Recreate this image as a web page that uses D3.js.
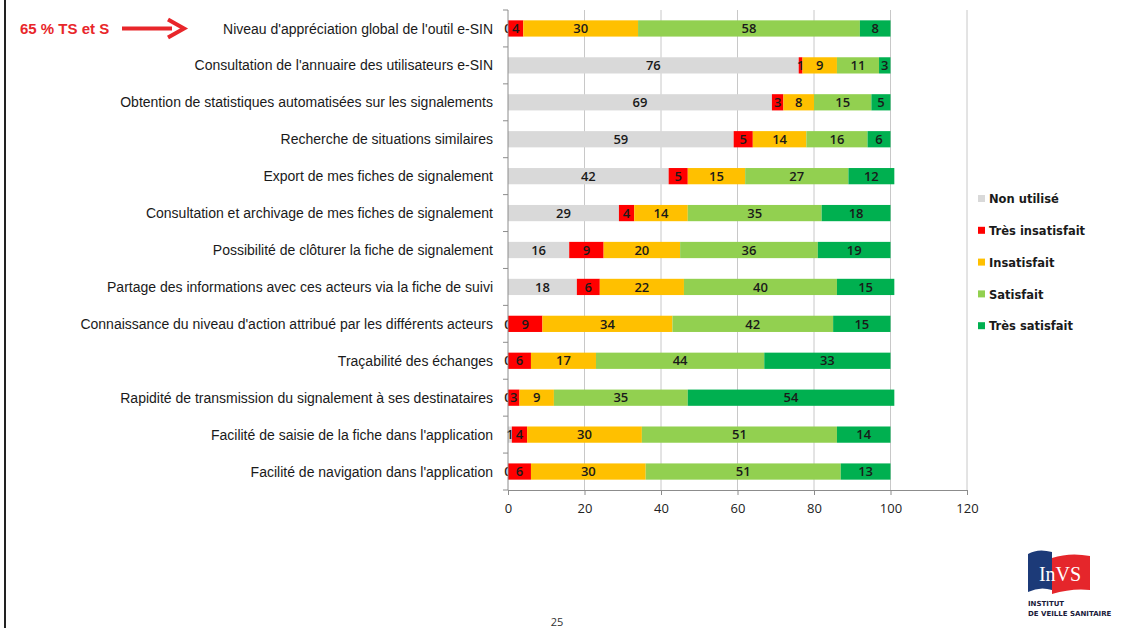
<!DOCTYPE html>
<html>
<head>
<meta charset="utf-8">
<script src="https://cdn.jsdelivr.net/npm/d3@7"></script>
<style>
  body { margin: 0; background: #fff; }
  svg { display: block; }
</style>
</head>
<body>
<div id="chart"></div>
<script>
// Categories (top to bottom)
const categories = [
  "Niveau d'appréciation global de l'outil e-SIN",
  "Consultation de l'annuaire des utilisateurs e-SIN",
  "Obtention de statistiques automatisées sur les signalements",
  "Recherche de situations similaires",
  "Export de mes fiches de signalement",
  "Consultation et archivage de mes fiches de signalement",
  "Possibilité de clôturer la fiche de signalement",
  "Partage des informations avec ces acteurs via la fiche de suivi",
  "Connaissance du niveau d'action attribué par les différents acteurs",
  "Traçabilité des échanges",
  "Rapidité de transmission du signalement à ses destinataires",
  "Facilité de saisie de la fiche dans l'application",
  "Facilité de navigation dans l'application"
];

// Series values (%)
const nonUtilise      = [0, 76, 69, 59, 42, 29, 16, 18, 0, 0, 0, 1, 0];
const tresInsatisfait = [4, 1, 3, 5, 5, 4, 9, 6, 9, 6, 3, 4, 6];
const insatisfait     = [30, 9, 8, 14, 15, 14, 20, 22, 34, 17, 9, 30, 30];
const satisfait       = [58, 11, 15, 16, 27, 35, 36, 40, 42, 44, 35, 51, 51];
const tresSatisfait   = [8, 3, 5, 6, 12, 18, 19, 15, 15, 33, 54, 14, 13];

const seriesNames = ["Non utilisé", "Très insatisfait", "Insatisfait", "Satisfait", "Très satisfait"];
const seriesColors = ["#d9d9d9", "#ff0000", "#ffc000", "#92d050", "#00b050"];
const xTicks = [0, 20, 40, 60, 80, 100, 120];

// Build table for d3.stack
const seriesValues = [nonUtilise, tresInsatisfait, insatisfait, satisfait, tresSatisfait];
const table = categories.map((c, i) => {
    const row = { category: c };
    seriesNames.forEach((s, j) => { row[s] = seriesValues[j][i]; });
    return row;
});

const W = 1144, H = 628;
const svg = d3.select("#chart").append("svg")
    .attr("width", W)
    .attr("height", H);

// Slide frame on the left
svg.append("line")
    .attr("x1", 5).attr("x2", 5)
    .attr("y1", 0).attr("y2", H)
    .attr("stroke", "#222")
    .attr("stroke-width", 2);

// Scales
const x = d3.scaleLinear().domain([0, 120]).range([508, 967]);
const y = d3.scaleBand()
    .domain(categories)
    .range([10, 490])
    .paddingInner(0.56)
    .paddingOuter(0.28);

const plotTop = 10, plotBottom = 490;

// Vertical gridlines
svg.append("g")
    .selectAll("line")
    .data(xTicks.filter(d => d > 0))
    .join("line")
    .attr("x1", d => x(d)).attr("x2", d => x(d))
    .attr("y1", plotTop).attr("y2", plotBottom)
    .attr("stroke", "#c8c8c8")
    .attr("stroke-width", 1);

// Stacked bars
const stack = d3.stack().keys(seriesNames);
const stacked = stack(table);

const layers = svg.append("g")
    .selectAll("g")
    .data(stacked)
    .join("g")
    .attr("fill", (d, i) => seriesColors[i]);

layers.selectAll("rect")
    .data(d => d)
    .join("rect")
    .attr("x", d => x(d[0]))
    .attr("y", d => y(d.data.category))
    .attr("width", d => x(d[1]) - x(d[0]))
    .attr("height", y.bandwidth());

// Data labels
const labelFont = "'Open Sans', 'Liberation Sans', sans-serif";
layers.selectAll("text")
    .data(d => d.map(p => ({ p, key: d.key })))
    .join("text")
    .attr("x", d => (x(d.p[0]) + x(d.p[1])) / 2)
    .attr("y", d => y(d.p.data.category) + y.bandwidth() / 2)
    .attr("dy", "0.36em")
    .attr("text-anchor", "middle")
    .attr("fill", "#1a1a1a")
    .style("font-family", labelFont)
    .style("font-size", "13px")
    .style("font-weight", 600)
    .text(d => d.p.data[d.key]);

// X axis
const xAxis = svg.append("g")
    .attr("transform", `translate(0,${plotBottom})`)
    .call(d3.axisBottom(x).tickValues(xTicks).tickSize(5).tickPadding(9));
xAxis.select(".domain").attr("stroke", "#8c8c8c");
xAxis.selectAll(".tick line").attr("stroke", "#8c8c8c");
xAxis.selectAll("text")
    .attr("fill", "#222")
    .style("font-family", labelFont)
    .style("font-size", "13px");

// Y axis (category axis line with ticks between categories)
svg.append("line")
    .attr("x1", x(0)).attr("x2", x(0))
    .attr("y1", plotTop).attr("y2", plotBottom)
    .attr("stroke", "#8c8c8c");
const step = y.step();
svg.append("g")
    .selectAll("line")
    .data(d3.range(categories.length + 1))
    .join("line")
    .attr("x1", x(0) - 5).attr("x2", x(0))
    .attr("y1", i => plotTop + i * step)
    .attr("y2", i => plotTop + i * step)
    .attr("stroke", "#8c8c8c");

// Category labels
const narrowFont = "'Liberation Sans Narrow', 'Arial Narrow', 'Liberation Sans', sans-serif";
svg.append("g")
    .selectAll("text")
    .data(categories)
    .join("text")
    .attr("x", 493)
    .attr("y", d => y(d) + y.bandwidth() / 2)
    .attr("dy", "0.36em")
    .attr("text-anchor", "end")
    .attr("fill", "#1a1a1a")
    .style("font-family", narrowFont)
    .style("font-size", "14px")
    .text(d => d);

// Annotation on first row
const firstY = y(categories[0]) + y.bandwidth() / 2;
svg.append("text")
    .attr("x", 20)
    .attr("y", firstY)
    .attr("dy", "0.36em")
    .attr("fill", "#e8262a")
    .style("font-family", narrowFont)
    .style("font-size", "15px")
    .style("font-weight", 600)
    .text("65 % TS et S");
svg.append("line")
    .attr("x1", 122).attr("x2", 172)
    .attr("y1", firstY).attr("y2", firstY)
    .attr("stroke", "#e8262a")
    .attr("stroke-width", 4);
svg.append("path")
    .attr("d", `M168,${firstY - 9} L184,${firstY} L168,${firstY + 9}`)
    .attr("fill", "none")
    .attr("stroke", "#e8262a")
    .attr("stroke-width", 4)
    .attr("stroke-linejoin", "miter");

// Legend
const legend = svg.append("g")
    .selectAll("g")
    .data(seriesNames)
    .join("g")
    .attr("transform", (d, i) => `translate(978,${199 + i * 31.8})`);
legend.append("rect")
    .attr("x", 0).attr("y", -4)
    .attr("width", 7).attr("height", 7)
    .attr("fill", (d, i) => seriesColors[i]);
legend.append("text")
    .attr("x", 11)
    .attr("y", 0)
    .attr("dy", "0.36em")
    .attr("fill", "#1a1a1a")
    .style("font-family", "'DejaVu Sans', Verdana, sans-serif")
    .style("font-size", "11.5px")
    .style("font-weight", 600)
    .text(d => d);

// Page number
svg.append("text")
    .attr("x", 557)
    .attr("y", 622)
    .attr("dy", "0.36em")
    .attr("text-anchor", "middle")
    .attr("fill", "#333")
    .style("font-family", labelFont)
    .style("font-size", "11px")
    .text("25");

// Logo (InVS)
const logo = svg.append("g").attr("transform", "translate(1028,548)");
logo.append("path")
    .attr("d", "M0,6 Q10,0 24,4 L24,42 Q12,38 0,44 Z")
    .attr("fill", "#1c3a78");
logo.append("path")
    .attr("d", "M24,10 Q42,4 62,8 L62,42 Q44,40 24,46 Z")
    .attr("fill", "#e5262b");
logo.append("text")
    .attr("x", 32)
    .attr("y", 33)
    .attr("text-anchor", "middle")
    .attr("fill", "#fff")
    .style("font-family", "'Liberation Serif', serif")
    .style("font-size", "20px")
    .text("InVS");
logo.append("text")
    .attr("x", 0).attr("y", 58)
    .attr("fill", "#1a1a3a")
    .style("font-family", "'DejaVu Sans', sans-serif")
    .style("font-size", "7px")
    .style("font-weight", 700)
    .text("INSTITUT");
logo.append("text")
    .attr("x", 0).attr("y", 68)
    .attr("fill", "#1a1a3a")
    .style("font-family", "'DejaVu Sans', sans-serif")
    .style("font-size", "7px")
    .style("font-weight", 700)
    .text("DE VEILLE SANITAIRE");
</script>
</body>
</html>
